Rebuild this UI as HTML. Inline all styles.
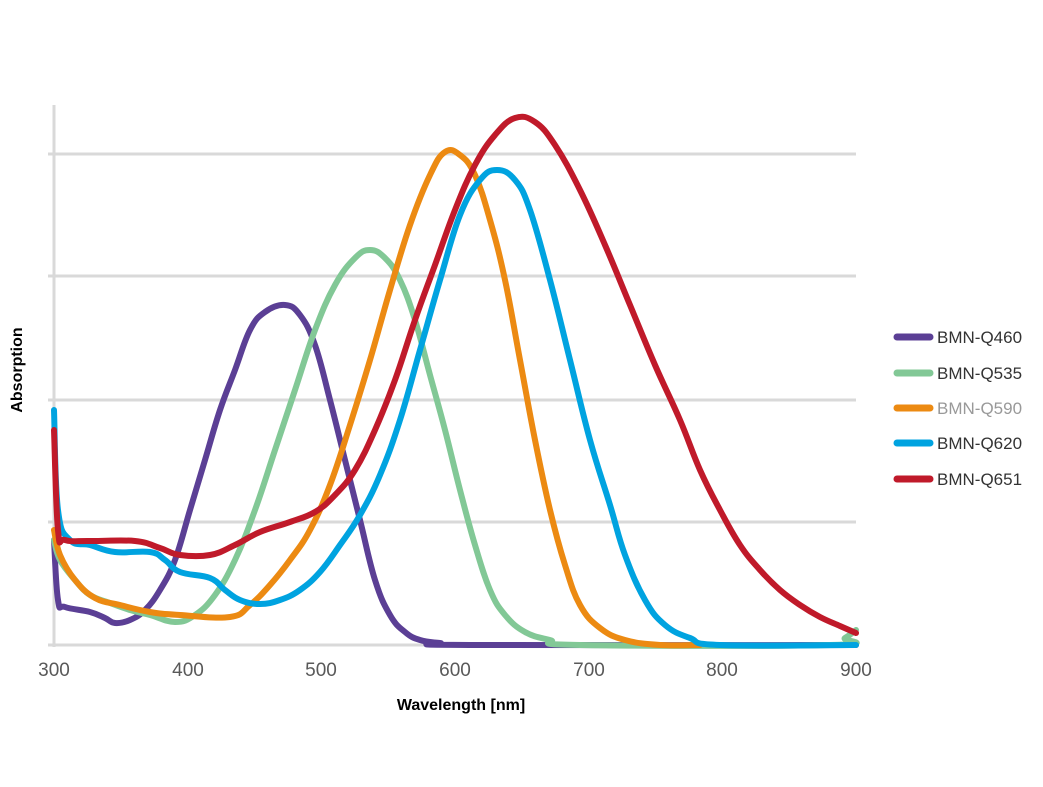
<!DOCTYPE html>
<html><head><meta charset="utf-8"><style>body{margin:0;background:#fff}svg{display:block}</style></head><body>
<svg id="s" width="1043" height="787" viewBox="0 0 1043 787" xmlns="http://www.w3.org/2000/svg" font-family="Liberation Sans, sans-serif">
<g stroke="#d9d9d9" stroke-width="3">
<line x1="48" y1="154" x2="856" y2="154"/><line x1="48" y1="276" x2="856" y2="276"/><line x1="48" y1="400" x2="856" y2="400"/><line x1="48" y1="522" x2="856" y2="522"/><line x1="48" y1="645" x2="856" y2="645"/>
<line x1="54" y1="105" x2="54" y2="647"/>
</g>
<g id="curves" fill="none" stroke-width="6" stroke-linejoin="round" stroke-linecap="round">
<polyline stroke="#5b3f95" points="54,540 58,600 65,607 90,612 105,618 115,623 130,620 145,610 160,590 175,560 190,510 205,460 220,410 235,370 250,330 265,312 285,305 300,315 315,345 330,400 345,460 360,520 375,580 390,615 405,632 420,640 440,643 470,645 856,645"/>
<polyline stroke="#82c896" points="54,540 60,560 75,580 90,595 110,603 130,610 150,615 175,622 195,615 215,595 235,560 255,510 275,450 295,390 315,330 335,285 355,258 370,250 385,258 400,280 415,320 430,375 445,430 460,490 475,545 490,590 505,615 525,632 550,640 580,645 830,645 845,638 856,630"/>
<polyline stroke="#ec8a12" points="54,530 60,555 75,580 95,598 120,605 150,612 180,615 230,617 250,605 270,585 290,560 310,530 330,485 350,425 370,360 390,290 410,225 430,175 445,152 460,155 475,175 490,220 505,280 520,360 535,440 550,510 565,565 580,605 600,628 625,640 660,645 700,645"/>
<polyline stroke="#00a3e0" points="54,410 58,510 70,540 90,545 115,552 150,552 165,560 180,572 210,578 225,590 240,600 260,604 280,600 300,590 320,572 340,545 360,515 380,475 400,420 420,350 440,280 460,215 480,180 497,170 515,180 530,210 550,280 570,360 590,440 610,505 625,555 645,600 665,625 690,638 720,645 856,645"/>
<polyline stroke="#c01a2a" points="54,430 58,530 65,540 90,541 135,541 160,548 180,555 210,555 235,545 260,532 290,522 315,512 335,495 355,470 375,430 395,380 415,320 435,265 455,210 475,165 495,135 515,118 535,122 555,145 580,190 605,245 630,305 655,365 680,420 700,470 720,510 740,545 760,570 780,590 800,605 820,617 840,626 856,633"/>
</g>
<g font-size="19" fill="#595959" text-anchor="middle">
<text x="54" y="676">300</text><text x="188" y="676">400</text><text x="321" y="676">500</text><text x="455" y="676">600</text><text x="589" y="676">700</text><text x="722" y="676">800</text><text x="856" y="676">900</text>
</g>
<text x="461" y="710" font-size="16" font-weight="bold" text-anchor="middle" fill="#000">Wavelength [nm]</text>
<text transform="translate(22,370) rotate(-90)" font-size="16" font-weight="bold" text-anchor="middle" fill="#000">Absorption</text>
<g stroke-width="7" stroke-linecap="round">
<line x1="897" y1="337" x2="930" y2="337" stroke="#5b3f95"/>
<line x1="897" y1="373" x2="930" y2="373" stroke="#82c896"/>
<line x1="897" y1="408" x2="930" y2="408" stroke="#ec8a12"/>
<line x1="897" y1="443" x2="930" y2="443" stroke="#00a3e0"/>
<line x1="897" y1="479" x2="930" y2="479" stroke="#c01a2a"/>
</g>
<g font-size="17" fill="#333">
<text x="937" y="343">BMN-Q460</text><text x="937" y="379">BMN-Q535</text><text x="937" y="414" fill="#999">BMN-Q590</text><text x="937" y="449">BMN-Q620</text><text x="937" y="485">BMN-Q651</text>
</g>
</svg>
<script>
(function(){
var ns="http://www.w3.org/2000/svg";
document.querySelectorAll('#curves polyline').forEach(function(pl){
  var p=pl.getAttribute('points').trim().split(/\s+/).map(function(s){return s.split(',').map(Number);});
  var d='M'+p[0][0]+','+p[0][1];
  for(var i=0;i<p.length-1;i++){
    var p0=p[i-1]||p[i],p1=p[i],p2=p[i+1],p3=p[i+2]||p2;
    var t=0.2;
    var c1x=p1[0]+(p2[0]-p0[0])*t,c1y=p1[1]+(p2[1]-p0[1])*t;
    var c2x=p2[0]-(p3[0]-p1[0])*t,c2y=p2[1]-(p3[1]-p1[1])*t;
    d+=' C'+c1x+','+c1y+' '+c2x+','+c2y+' '+p2[0]+','+p2[1];
  }
  var path=document.createElementNS(ns,'path');
  path.setAttribute('d',d);path.setAttribute('stroke',pl.getAttribute('stroke'));
  pl.parentNode.replaceChild(path,pl);
});
})();
</script>
</body></html>
